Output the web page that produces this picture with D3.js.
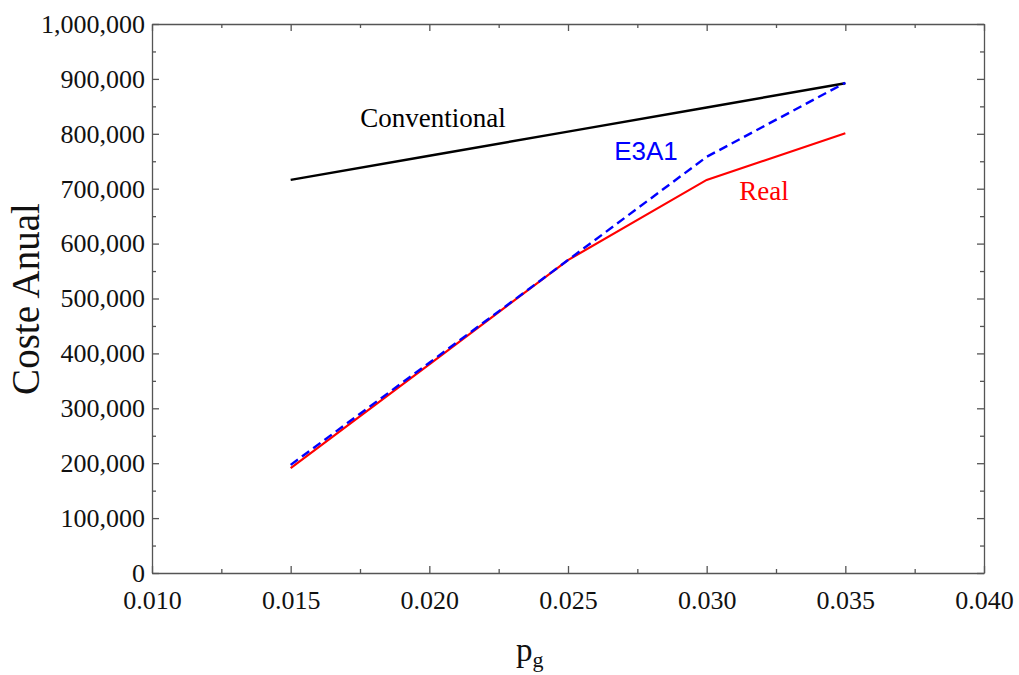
<!DOCTYPE html>
<html>
<head>
<meta charset="utf-8">
<script src="https://cdn.jsdelivr.net/npm/d3@7"></script>
<style>
  body { margin: 0; background: #fff; }
  svg { display: block; }
</style>
</head>
<body>
<svg id="chart" width="1019" height="675"></svg>
<script>
// Annual cost versus p_g for three strategies
const pg = [0.015, 0.020, 0.025, 0.030, 0.035];
const conventional = [716000, 760000, 804000, 848000, 892000];
const e3a1 = [197000, 383000, 570000, 758000, 893000];
const real = [191000, 380000, 570000, 716000, 801000];

const xTicks = [0.010, 0.015, 0.020, 0.025, 0.030, 0.035, 0.040];
const yTicks = [0, 100000, 200000, 300000, 400000, 500000, 600000, 700000, 800000, 900000, 1000000];

const svg = d3.select("#chart");
const m = { left: 152, right: 984, top: 24, bottom: 573 };

const x = d3.scaleLinear().domain([0.010, 0.040]).range([m.left, m.right]);
const y = d3.scaleLinear().domain([0, 1000000]).range([m.bottom, m.top]);

const serif = "'Liberation Serif', 'Times New Roman', serif";
const axisColor = "#555";

// Minor tick positions halfway between majors
const xMinor = d3.range(0.0125, 0.040, 0.005);
const yMinor = d3.range(50000, 1000000, 100000);

function styleAxis(g) {
  g.select(".domain").attr("stroke", axisColor).attr("stroke-width", 1.3);
  g.selectAll(".tick line").attr("stroke", axisColor).attr("stroke-width", 1.3);
  g.selectAll("text").attr("font-family", serif).attr("font-size", 26).attr("fill", "#111");
}
function styleMinor(g) {
  g.select(".domain").remove();
  g.selectAll("line").attr("stroke", axisColor).attr("stroke-width", 1.3);
}

// Bottom axis with labels
const fmtX = d3.format(".3f");
const gx = svg.append("g").attr("transform", `translate(0,${m.bottom})`)
  .call(d3.axisBottom(x).tickValues(xTicks).tickFormat(fmtX).tickSizeInner(-7).tickSizeOuter(0).tickPadding(18));
styleAxis(gx);
svg.append("g").attr("transform", `translate(0,${m.bottom})`)
  .call(d3.axisBottom(x).tickValues(xMinor).tickFormat("").tickSizeInner(-4).tickSizeOuter(0))
  .call(styleMinor);

// Top mirror axis
const gt = svg.append("g").attr("transform", `translate(0,${m.top})`)
  .call(d3.axisTop(x).tickValues(xTicks).tickFormat("").tickSizeInner(-7).tickSizeOuter(0));
styleAxis(gt);
svg.append("g").attr("transform", `translate(0,${m.top})`)
  .call(d3.axisTop(x).tickValues(xMinor).tickFormat("").tickSizeInner(-4).tickSizeOuter(0))
  .call(styleMinor);

// Left axis with labels
const fmtY = d3.format(",");
const gy = svg.append("g").attr("transform", `translate(${m.left},0)`)
  .call(d3.axisLeft(y).tickValues(yTicks).tickFormat(fmtY).tickSizeInner(-7).tickSizeOuter(0).tickPadding(7));
styleAxis(gy);
svg.append("g").attr("transform", `translate(${m.left},0)`)
  .call(d3.axisLeft(y).tickValues(yMinor).tickFormat("").tickSizeInner(-4).tickSizeOuter(0))
  .call(styleMinor);

// Right mirror axis
const gr = svg.append("g").attr("transform", `translate(${m.right},0)`)
  .call(d3.axisRight(y).tickValues(yTicks).tickFormat("").tickSizeInner(-7).tickSizeOuter(0));
styleAxis(gr);
svg.append("g").attr("transform", `translate(${m.right},0)`)
  .call(d3.axisRight(y).tickValues(yMinor).tickFormat("").tickSizeInner(-4).tickSizeOuter(0))
  .call(styleMinor);

// Series lines
const line = d3.line().x((d, i) => x(pg[i])).y(d => y(d));

svg.append("path").datum(conventional)
  .attr("d", line).attr("fill", "none").attr("stroke", "#000").attr("stroke-width", 2.4);
svg.append("path").datum(real)
  .attr("d", line).attr("fill", "none").attr("stroke", "#ff0000").attr("stroke-width", 2.2);
svg.append("path").datum(e3a1)
  .attr("d", line).attr("fill", "none").attr("stroke", "#0000ff").attr("stroke-width", 2.4)
  .attr("stroke-dasharray", "9,5");

// Series labels
svg.append("text").attr("x", 433).attr("y", 127).attr("text-anchor", "middle")
  .attr("font-family", serif).attr("font-size", 27).attr("fill", "#000").text("Conventional");
svg.append("text").attr("x", 646).attr("y", 160).attr("text-anchor", "middle")
  .attr("font-family", "'Liberation Sans', Arial, sans-serif").attr("font-size", 26).attr("fill", "#0000ff").text("E3A1");
svg.append("text").attr("x", 764).attr("y", 200).attr("text-anchor", "middle")
  .attr("font-family", serif).attr("font-size", 27).attr("fill", "#ff0000").text("Real");

// Axis titles
svg.append("text").attr("transform", "translate(39,299) rotate(-90)").attr("text-anchor", "middle")
  .attr("font-family", serif).attr("font-size", 39).attr("fill", "#111").text("Coste Anual");

const xt = svg.append("text").attr("x", 516).attr("y", 661)
  .attr("font-family", serif).attr("font-size", 33).attr("fill", "#111");
xt.append("tspan").text("p");
xt.append("tspan").attr("font-size", 22).attr("dy", 6).text("g");
</script>
</body>
</html>
